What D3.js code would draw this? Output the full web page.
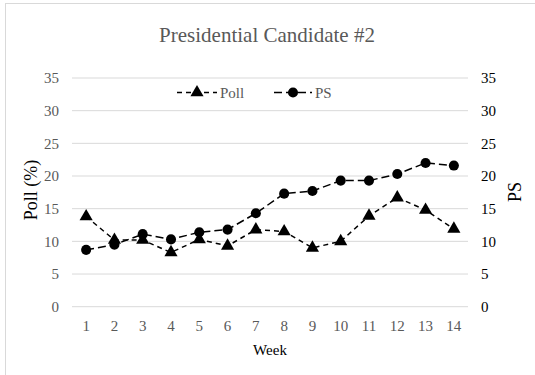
<!DOCTYPE html>
<html>
<head>
<meta charset="utf-8">
<script src="https://cdn.jsdelivr.net/npm/d3@7"></script>
<style>
  html, body { margin: 0; padding: 0; background: #fff; }
  svg { display: block; }
  svg text { font-family: "Liberation Serif", "Times New Roman", serif !important; }
</style>
</head>
<body>
<svg id="chart" width="535" height="375"></svg>
<script>
// Weekly figures for candidate #2
const weeks = [1, 2, 3, 4, 5, 6, 7, 8, 9, 10, 11, 12, 13, 14];
const pollValues = [13.8, 10.2, 10.2, 8.3, 10.3, 9.3, 11.8, 11.5, 9.0, 10.0, 13.9, 16.7, 14.8, 11.9];
const psValues = [8.7, 9.5, 11.1, 10.3, 11.4, 11.8, 14.3, 17.3, 17.7, 19.3, 19.3, 20.3, 22.0, 21.6];
const yTicks = [0, 5, 10, 15, 20, 25, 30, 35];

const serif = '"Liberation Serif", "Times New Roman", serif';
const svg = d3.select("#chart").style("font-family", serif);

// Outer chart frame
svg.append("rect")
  .attr("x", 5.5).attr("y", 3.5)
  .attr("width", 560).attr("height", 400)
  .attr("fill", "#fff").attr("stroke", "#d9d9d9");

const plot = { left: 72, right: 468, top: 78, bottom: 306.7 };

const x = d3.scaleBand().domain(weeks).range([plot.left, plot.right]);
const cx = d => x(d) + x.bandwidth() / 2;
const yL = d3.scaleLinear().domain([0, 35]).range([plot.bottom, plot.top]);
const yR = d3.scaleLinear().domain([0, 35]).range([plot.bottom, plot.top]);

// Horizontal gridlines
svg.append("g").selectAll("line").data(yTicks).join("line")
  .attr("x1", plot.left).attr("x2", plot.right)
  .attr("y1", d => yL(d)).attr("y2", d => yL(d))
  .attr("stroke", "#d9d9d9").attr("stroke-width", 1);

function styleAxis(g, color) {
  g.attr("font-family", null).attr("font-size", null).style("font-family", serif);
  g.select(".domain").remove();
  g.selectAll("text").style("font-family", serif).style("font-size", "15px").attr("fill", color);
}

// Left axis
const gl = svg.append("g").attr("transform", `translate(${plot.left},0)`)
  .call(d3.axisLeft(yL).tickValues(yTicks).tickSize(0).tickPadding(13));
styleAxis(gl, "#595959");

// Right axis
const gr = svg.append("g").attr("transform", `translate(${plot.right},0)`)
  .call(d3.axisRight(yR).tickValues(yTicks).tickSize(0).tickPadding(13));
styleAxis(gr, "#000");

// Bottom axis (labels only)
const gb = svg.append("g").attr("transform", `translate(0,${plot.bottom})`)
  .call(d3.axisBottom(x).tickSize(0).tickPadding(14));
styleAxis(gb, "#595959");

// Titles
svg.append("text").attr("x", 267).attr("y", 42).attr("text-anchor", "middle")
  .style("font-size", "21px").attr("fill", "#595959").text("Presidential Candidate #2");
svg.append("text").attr("x", 270).attr("y", 355).attr("text-anchor", "middle")
  .style("font-size", "15px").attr("fill", "#000").text("Week");
svg.append("text").attr("transform", "translate(37,190) rotate(-90)").attr("text-anchor", "middle")
  .style("font-size", "18px").attr("fill", "#000").text("Poll (%)");
svg.append("text").attr("transform", "translate(521,192) rotate(-90)").attr("text-anchor", "middle")
  .style("font-size", "18px").attr("fill", "#000").text("PS");

// Series
const series = [
  { name: "Poll", values: pollValues, y: yL, dash: "5,4", symbol: d3.symbolTriangle, size: 75 },
  { name: "PS", values: psValues, y: yR, dash: "8,4", symbol: d3.symbolCircle, size: 80 }
];

series.forEach(s => {
  const line = d3.line().x((d, i) => cx(weeks[i])).y(d => s.y(d));
  svg.append("path").datum(s.values)
    .attr("d", line).attr("fill", "none")
    .attr("stroke", "#000").attr("stroke-width", 1.5)
    .attr("stroke-dasharray", s.dash);
  svg.append("g").selectAll("path").data(s.values).join("path")
    .attr("transform", (d, i) => `translate(${cx(weeks[i])},${s.y(d)})`)
    .attr("d", d3.symbol().type(s.symbol).size(s.size))
    .attr("fill", "#000");
});

// Legend
const legend = [
  { name: "Poll", x0: 177, x1: 217, dash: "5,4", symbol: d3.symbolTriangle, size: 75 },
  { name: "PS", x0: 274, x1: 312, dash: "8,4", symbol: d3.symbolCircle, size: 80 }
];
const ly = 92.5;
legend.forEach(l => {
  svg.append("line").attr("x1", l.x0).attr("x2", l.x1).attr("y1", ly).attr("y2", ly)
    .attr("stroke", "#000").attr("stroke-width", 1.5).attr("stroke-dasharray", l.dash);
  svg.append("path").attr("transform", `translate(${(l.x0 + l.x1) / 2},${ly})`)
    .attr("d", d3.symbol().type(l.symbol).size(l.size)).attr("fill", "#000");
  svg.append("text").attr("x", l.x1 + 3).attr("y", ly + 5)
    .style("font-size", "15px").attr("fill", "#595959").text(l.name);
});
</script>
</body>
</html>
